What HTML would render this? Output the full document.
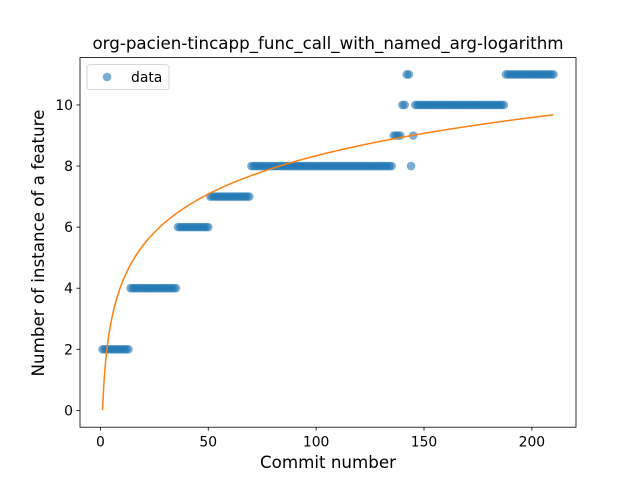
<!DOCTYPE html>
<html><head><meta charset="utf-8"><style>
body{margin:0;background:#fff;}
svg{display:block;font-family:"DejaVu Sans","Liberation Sans",sans-serif;}
</style></head><body>
<svg id="chart" width="640" height="480">
<rect width="640" height="480" fill="#fff"/>
<g id="pts"></g>
<g id="fit"></g>
<rect x="80" y="57.6" width="496" height="369.6" fill="none" stroke="#000" stroke-width="0.8"/>
<g id="xt"></g>
<g id="yt"></g>
<text x="328" y="49" text-anchor="middle" font-size="16.7">org-pacien-tincapp_func_call_with_named_arg-logarithm</text>
<text x="328" y="468" text-anchor="middle" font-size="16.7">Commit number</text>
<text transform="translate(44,243) rotate(-90)" text-anchor="middle" font-size="16.7">Number of instance of a feature</text>
<g>
<rect x="87" y="64.6" width="82" height="25" rx="3" fill="#fff" fill-opacity="0.8" stroke="#ccc" stroke-width="0.8"/>
<circle cx="107" cy="77" r="4.3" fill="#1f77b4" fill-opacity="0.6"/>
<text x="131" y="82" font-size="13.9">data</text>
</g>
</svg>
<script>
const yValues = [
2,2,2,2,2,2,2,2,2,2,2,2,2,
4,4,4,4,4,4,4,4,4,4,4,4,4,4,4,4,4,4,4,4,4,4,
6,6,6,6,6,6,6,6,6,6,6,6,6,6,6,
7,7,7,7,7,7,7,7,7,7,7,7,7,7,7,7,7,7,7,
8,8,8,8,8,8,8,8,8,8,8,8,8,8,8,8,8,8,8,8,8,8,8,8,8,8,8,8,8,8,8,8,8,8,8,8,8,8,8,8,8,8,8,8,8,8,8,8,8,8,8,8,8,8,8,8,8,8,8,8,8,8,8,8,8,8,
9,9,9,9,10,10,11,11,8,9,
10,10,10,10,10,10,10,10,10,10,10,10,10,10,10,10,10,10,10,10,10,10,10,10,10,10,10,10,10,10,10,10,10,10,10,10,10,10,10,10,10,10,
11,11,11,11,11,11,11,11,11,11,11,11,11,11,11,11,11,11,11,11,11,11,11
];
const xStart = 1;
const fitA = 1.81, fitB = 0;
const xTicks = [0,50,100,150,200];
const yTicks = [0,2,4,6,8,10];
const NS="http://www.w3.org/2000/svg";
const xMin=-9.45,xMax=220.45,yMin=-0.55,yMax=11.55;
function X(v){return 80+(v-xMin)/(xMax-xMin)*496;}
function Y(v){return 427.2-(v-yMin)/(yMax-yMin)*369.6;}
function mk(t,a,p){const e=document.createElementNS(NS,t);for(const k in a)e.setAttribute(k,a[k]);p.appendChild(e);return e;}
const pts=document.getElementById('pts');
yValues.forEach((v,i)=>{
  const c=mk('circle',{cx:X(xStart+i),cy:Y(v),r:4.3,fill:'#1f77b4','fill-opacity':0.6},pts);
  
  
});
const n=yValues.length;
let d='';
for(let k=0;k<=400;k++){const x=xStart+(n-xStart)*k/400;const y=fitA*Math.log(x)+fitB;d+=(k?'L':'M')+X(x).toFixed(2)+','+Y(y).toFixed(2);}
const fl=mk('path',{d:d,fill:'none',stroke:'#ff7f0e','stroke-width':1.5},document.getElementById('fit'));


const xt=document.getElementById('xt');
xTicks.forEach(t=>{
  const l=mk('line',{x1:X(t),x2:X(t),y1:427.2,y2:430.7,stroke:'#000','stroke-width':0.8},xt);
  
  
  const s=mk('text',{x:X(t),y:446.5,'text-anchor':'middle','font-size':13.9},xt);s.textContent=t;
  
  
});
const yt=document.getElementById('yt');
yTicks.forEach(t=>{
  const l=mk('line',{x1:76.5,x2:80,y1:Y(t),y2:Y(t),stroke:'#000','stroke-width':0.8},yt);
  
  
  const s=mk('text',{x:73,y:Y(t)+5,'text-anchor':'end','font-size':13.9},yt);s.textContent=t;
  
  
});
</script>
</body></html>
